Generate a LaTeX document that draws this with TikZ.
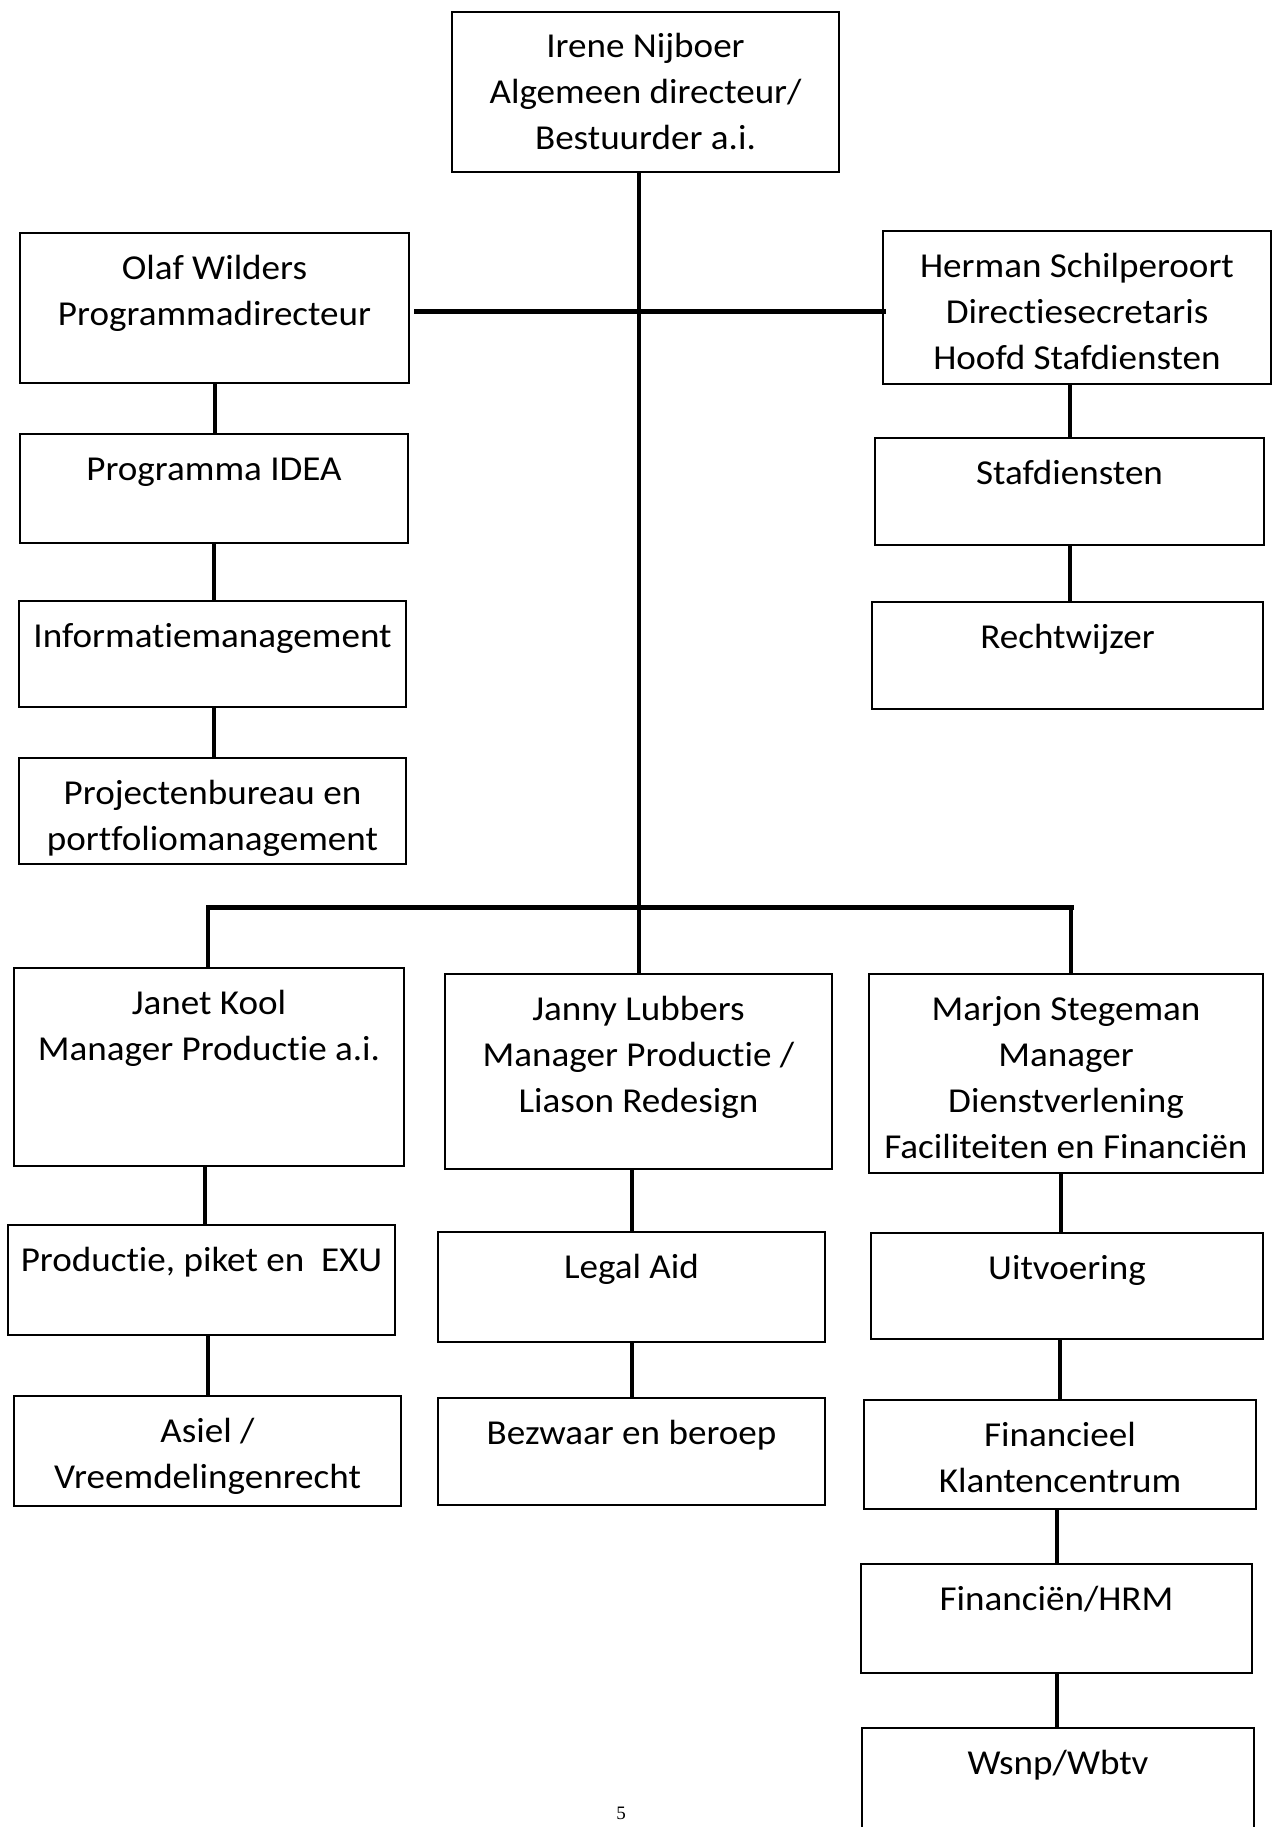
\documentclass[tikz,border=0pt]{standalone}
\usepackage{fontspec}
\setmainfont{Carlito}[FakeStretch=1.06, Ligatures=NoCommon]
\newfontfamily\pgnum{Liberation Serif}
\newcommand\bx[3]{\parbox[c][#2][t]{#1}{\centering\rule{0pt}{46pt}#3\par}}
\begin{document}
\begin{tikzpicture}[x=1pt,y=-1pt,
  box/.style={draw, line width=2.6pt, inner sep=0pt, outer sep=0pt, font=\fontsize{35}{46}\selectfont},
  link/.style={line width=4pt},
  bar/.style={line width=5pt, line cap=rect}]
\fill[white] (0,0) rectangle (1273,1827);
\useasboundingbox (0,0) rectangle (1273,1827);
% boxes
\node[box] (irene)  at (645.5,92)   {\bx{387pt}{160pt}{Irene Nijboer\\Algemeen directeur/\\Bestuurder a.i.}};
\node[box] (olaf)   at (214.5,308)  {\bx{389pt}{150pt}{Olaf Wilders\\Programmadirecteur}};
\node[box] (herman) at (1077,307.5) {\bx{388pt}{153pt}{Herman Schilperoort\\Directiesecretaris\\Hoofd Stafdiensten}};
\node[box] (prog)   at (214,488.5)  {\bx{388pt}{109pt}{Programma IDEA}};
\node[box] (staf)   at (1069.5,491.5) {\bx{389pt}{107pt}{Stafdiensten}};
\node[box] (info)   at (212.5,654)  {\bx{387pt}{106pt}{Informatiemanagement}};
\node[box] (recht)  at (1067.5,655.5) {\bx{391pt}{107pt}{Rechtwijzer}};
\node[box] (proj)   at (212.5,811)  {\bx{387pt}{106pt}{Projectenbureau en\\portfoliomanagement}};
\node[box] (janet)  at (209,1067)   {\bx{390pt}{198pt}{Janet Kool\\Manager Productie a.i.}};
\node[box] (janny)  at (638.5,1071.5) {\bx{387pt}{195pt}{Janny Lubbers\\Manager Productie /\\Liason Redesign}};
\node[box] (marjon) at (1066,1073.5) {\bx{394pt}{199pt}{Marjon Stegeman\\Manager\\Dienstverlening\\Faciliteiten en Financiën}};
\node[box] (prodp)  at (201.5,1280) {\bx{387pt}{110pt}{Productie, piket en\ \ EXU}};
\node[box] (legal)  at (631.5,1287) {\bx{387pt}{110pt}{Legal Aid}};
\node[box] (uitv)   at (1067,1286)  {\bx{392pt}{106pt}{Uitvoering}};
\node[box] (asiel)  at (207.5,1451) {\bx{387pt}{110pt}{Asiel /\\Vreemdelingenrecht}};
\node[box] (bezw)   at (631.5,1451.5) {\bx{387pt}{107pt}{Bezwaar en beroep}};
\node[box] (fink)   at (1060,1454.5) {\bx{392pt}{109pt}{Financieel\\Klantencentrum}};
\node[box] (hrm)    at (1056.5,1618.5) {\bx{391pt}{109pt}{Financiën/HRM}};
\node[box] (wsnp)   at (1058,1779)  {\bx{392pt}{102pt}{Wsnp/Wbtv}};
% connectors
\draw[link] (janny.north |- irene.south) -- (janny.north);
\coordinate (tbl) at (416,311);
\draw[bar] (tbl) -- (herman.west |- tbl);
\draw[link] (olaf.south) -- (olaf.south |- prog.north);
\draw[link] (prog.south) -- (prog.south |- info.north);
\draw[link] (prog.south |- info.south) -- (prog.south |- proj.north);
\draw[link] (staf.north |- herman.south) -- (staf.north);
\draw[link] (staf.south) -- (staf.south |- recht.north);
\coordinate (bl) at (208,907);
\coordinate (br) at (1071,907);
\draw[bar] (bl) -- (br);
\draw[link] (bl) -- (bl |- janet.north);
\draw[link] (br) -- (br |- marjon.north);
\coordinate (jk) at (205,1166);
\draw[link] (jk) -- (jk |- prodp.north);
\draw[link] (legal.north |- janny.south) -- (legal.north);
\coordinate (mu) at (1061,1173);
\draw[link] (mu) -- (mu |- uitv.north);
\draw[link] (asiel.north |- prodp.south) -- (asiel.north);
\draw[link] (legal.south) -- (legal.south |- bezw.north);
\draw[link] (fink.north |- uitv.south) -- (fink.north);
\draw[link] (hrm.north |- fink.south) -- (hrm.north);
\draw[link] (hrm.south) -- (hrm.south |- wsnp.north);
% page number
\node[font=\pgnum\fontsize{19}{22}\selectfont] (pg) at (621,1813) {5};
\end{tikzpicture}
\end{document}
